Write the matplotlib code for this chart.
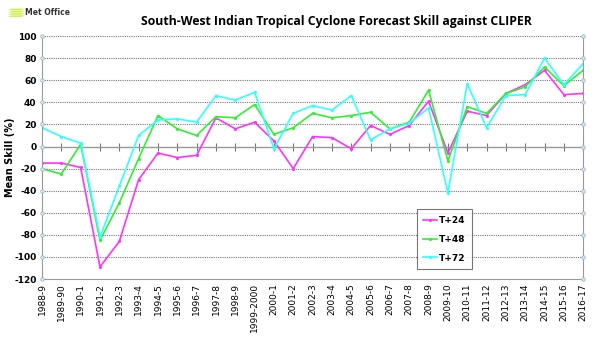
import numpy as np
import matplotlib
matplotlib.use("Agg")
import matplotlib.pyplot as plt
from matplotlib.patches import Polygon

seasons = ["1988-9", "1989-90", "1990-1", "1991-2", "1992-3", "1993-4", "1994-5",
           "1995-6", "1996-7", "1997-8", "1998-9", "1999-2000", "2000-1", "2001-2",
           "2002-3", "2003-4", "2004-5", "2005-6", "2006-7", "2007-8", "2008-9",
           "2009-10", "2010-11", "2011-12", "2012-13", "2013-14", "2014-15",
           "2015-16", "2016-17"]
t24 = [-15, -15, -19, -109, -86, -30, -6, -10, -8, 26, 16, 22, 5, -20, 9, 8, -2,
       19, 11, 19, 41, -6, 32, 28, 48, 56, 69, 47, 48]
t48 = [-20, -25, 2, -85, -51, -11, 28, 16, 10, 27, 26, 38, 11, 17, 30, 26, 28,
       31, 16, 22, 51, -13, 36, 30, 48, 54, 72, 55, 69]
t72 = [17, 9, 3, -82, -36, 10, 24, 25, 22, 46, 42, 49, -2, 30, 37, 33, 46, 6, 16,
       21, 35, -42, 57, 17, 46, 47, 80, 56, 75]
yticks = list(range(-120, 101, 20))

fig = plt.figure(figsize=(6, 3.37), dpi=100)
ax = fig.add_axes([0.07, 0.172, 0.902, 0.721])
x = np.arange(len(seasons))

ax.plot(x, t24, color="#ff33ff", lw=1.2, marker=".", ms=2.5, label="T+24")
ax.plot(x, t48, color="#33ee33", lw=1.2, marker=".", ms=2.5, label="T+48")
ax.plot(x, t72, color="#33ffff", lw=1.2, marker=".", ms=2.5, label="T+72")

ax.set_xlim(0, len(seasons) - 1)
ax.set_ylim(-120, 100)
ax.set_yticks(yticks)
ax.set_yticklabels([str(v) for v in yticks], fontsize=6.5, fontweight="bold")
for v in yticks[1:]:
    if v != 0:
        ax.axhline(v, color="#777777", lw=0.8, ls=(0, (1, 1)), zorder=0)
ax.axhline(0, color="#999999", lw=1.0, zorder=1)

# y axis markers on both sides
ax.plot(np.zeros(len(yticks)), yticks, ls="none", marker="o", ms=2.5, mfc="#dde8f0",
        mec="#9fb6c8", mew=0.6, clip_on=False, zorder=5)
ax.plot(np.full(len(yticks), len(seasons) - 1), yticks, ls="none", marker="o", ms=2.5,
        mfc="#dde8f0", mec="#9fb6c8", mew=0.6, clip_on=False, zorder=5)

ax.tick_params(axis="y", length=0, pad=4)
ax.set_xticks(x)
ax.set_xticklabels(seasons, rotation=90, fontsize=6.5)
ax.tick_params(axis="x", length=0, pad=3)

zero_ax = ax.secondary_xaxis(120 / 220)
zero_ax.set_xticks(x)
zero_ax.set_xticklabels([])
zero_ax.tick_params(direction="inout", length=6, color="#777777", width=0.8)
zero_ax.spines["bottom"].set_visible(False)
zero_ax.spines["top"].set_visible(False)

for s in ["left", "right", "bottom"]:
    ax.spines[s].set_color("#999999")
ax.spines["top"].set_visible(False)
ax.set_ylabel("Mean Skill (%)", fontsize=7, fontweight="bold", labelpad=0)
ax.yaxis.set_label_coords(-0.05, 0.5)

leg = ax.legend(loc="upper left", bbox_to_anchor=(0.684, 0.305), fontsize=6.5,
                frameon=True, fancybox=False, edgecolor="#555555", handlelength=1.6,
                handletextpad=0.2, labelspacing=1.1, borderpad=0.7)
for t in leg.get_texts():
    t.set_fontweight("bold")
leg.get_frame().set_linewidth(0.8)

fig.text(0.56, 0.935, "South-West Indian Tropical Cyclone Forecast Skill against CLIPER",
         ha="center", va="center", fontsize=8.8, fontweight="bold", family="Open Sans")

# Met Office logo
for i in range(4):
    y0 = 0.95 + i * 0.0065
    fig.patches.append(Polygon([[0.013, y0], [0.02, y0 + 0.0045], [0.042, y0 + 0.0045], [0.035, y0]],
                               closed=True, transform=fig.transFigure, color="#c8f03c", lw=0))
fig.text(0.042, 0.962, "Met Office", fontsize=5.5, fontweight="bold", va="center", ha="left",
         color="#333333")

fig.savefig("out.png", dpi=100)
